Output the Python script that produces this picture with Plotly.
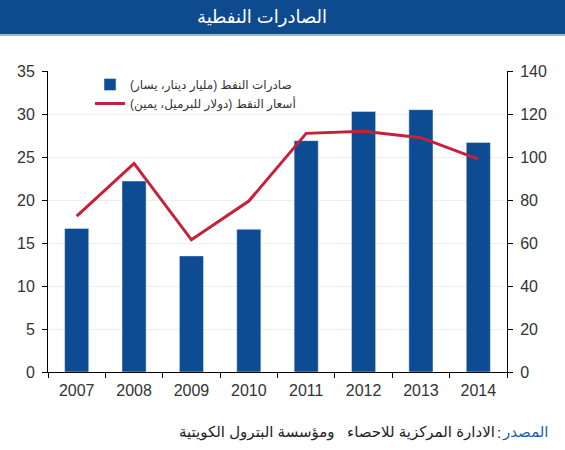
import plotly.graph_objects as go

years = ["2007", "2008", "2009", "2010", "2011", "2012", "2013", "2014"]
exports = [16.7, 22.2, 13.5, 16.6, 26.9, 30.3, 30.5, 26.7]
prices = [72.5, 97.0, 61.5, 79.5, 111.0, 112.0, 109.0, 99.0]
name_exports = "صادرات النفط (مليار دينار، يسار)"
name_prices = "أسعار النفط (دولار للبرميل، يمين)"
title_text = "الصادرات النفطية"
source_label = "المصدر"
source_text = "الادارة المركزية للاحصاء\u00a0\u00a0\u00a0ومؤسسة البترول الكويتية"

W, H = 565, 450
L, R, T, B = 48, 58, 71, 78
pw, ph = W - L - R, H - T - B

def px(x):
    return (x - L) / pw

def py(y):
    return (H - B - y) / ph

BLUE = "#0D4C92"
RED = "#C8203A"
FONT = "Liberation Sans, Arial, DejaVu Sans, sans-serif"

fig = go.Figure()
fig.add_trace(go.Bar(x=years, y=exports, name=name_exports, marker_color=BLUE,
                     width=0.42, yaxis="y"))
fig.add_trace(go.Scatter(x=years, y=prices, name=name_prices, mode="lines",
                         line=dict(color=RED, width=3), yaxis="y2"))

tickfont = dict(size=16, color="#333333", family=FONT)
fig.update_layout(
    width=W, height=H,
    margin=dict(l=L, r=R, t=T, b=B),
    paper_bgcolor="white", plot_bgcolor="white",
    font=dict(family=FONT, color="#333333", size=14),
    showlegend=True,
    legend=dict(x=px(90), y=py(70), xanchor="left", yanchor="top",
                bgcolor="rgba(0,0,0,0)", font=dict(size=12, color="#333333"),
                itemwidth=30, tracegroupgap=2),
    xaxis=dict(type="category", showline=True, linecolor="black", linewidth=1,
               ticks="outside", tickson="boundaries", ticklen=5, tickcolor="black",
               showgrid=False, tickfont=tickfont, ticklabelstandoff=4),
    yaxis=dict(range=[0, 35], dtick=5, showline=True, linecolor="black", linewidth=1,
               ticks="outside", ticklen=5, tickcolor="black",
               showgrid=True, gridcolor="#EEEEEE", gridwidth=1, zeroline=False,
               tickfont=tickfont, ticklabelstandoff=4),
    yaxis2=dict(range=[0, 140], dtick=20, overlaying="y", side="right",
                showline=True, linecolor="black", linewidth=1,
                ticks="outside", ticklen=5, tickcolor="black",
                showgrid=False, zeroline=False, tickfont=tickfont, ticklabelstandoff=4),
    bargap=0.58,
)

# title bar
fig.add_shape(type="rect", xref="paper", yref="paper",
              x0=px(0), x1=px(W), y0=py(34), y1=py(0),
              fillcolor="#0E4A8E", line=dict(width=0), layer="above")
fig.add_shape(type="line", xref="paper", yref="paper",
              x0=px(0), x1=px(W), y0=py(35), y1=py(35),
              line=dict(color="#9DB7D6", width=2))
fig.add_annotation(text=title_text, xref="paper", yref="paper",
                   x=px(262), y=py(17), xanchor="center", yanchor="middle",
                   showarrow=False, font=dict(size=18, color="white", family=FONT))

# source
fig.add_annotation(text=source_label, xref="paper", yref="paper",
                   x=px(551), y=py(432), xanchor="right", yanchor="middle",
                   showarrow=False, font=dict(size=15, color="#1F5FA8", family=FONT))
fig.add_annotation(text=":", xref="paper", yref="paper",
                   x=px(503), y=py(432), xanchor="right", yanchor="middle",
                   showarrow=False, font=dict(size=15, color="#222222", family=FONT))
fig.add_annotation(text=source_text, xref="paper", yref="paper",
                   x=px(497), y=py(432), xanchor="right", yanchor="middle",
                   showarrow=False, font=dict(size=15, color="#222222", family=FONT))

fig.write_html("out.html")
